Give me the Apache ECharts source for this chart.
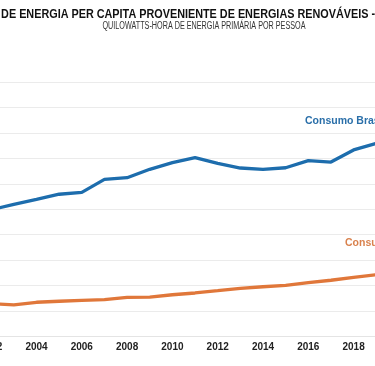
<!DOCTYPE html>
<html>
<head>
<meta charset="utf-8">
<script src="https://cdn.jsdelivr.net/npm/echarts@6/dist/echarts.min.js"></script>
<style>
html,body{margin:0;padding:0;background:#fff;}
#chart{width:375px;height:366px;}
</style>
</head>
<body>
<div id="chart"></div>
<script>
var years = [2002, 2003, 2004, 2005, 2006, 2007, 2008, 2009, 2010, 2011, 2012, 2013, 2014, 2015, 2016, 2017, 2018, 2019];
var brasil = [4980, 5195, 5390, 5590, 5665, 6175, 6240, 6570, 6830, 7025, 6805, 6620, 6570, 6630, 6910, 6855, 7330, 7590];
var mundo = [1290, 1240, 1345, 1385, 1420, 1445, 1540, 1550, 1640, 1710, 1800, 1895, 1955, 2010, 2115, 2210, 2325, 2430];
var titleText = 'CONSUMO DE ENERGIA PER CAPITA PROVENIENTE DE ENERGIAS RENOVÁVEIS - BRASIL E MUNDO';
var subtitleText = 'QUILOWATTS-HORA DE ENERGIA PRIMÁRIA POR PESSOA';
var labelBrasil = 'Consumo Brasileiro';
var labelMundo = 'Consumo Mundial';

function pairs(vals) { return years.map(function (y, i) { return [y, vals[i]]; }); }

var chart = echarts.init(document.getElementById('chart'), null, {renderer: 'canvas'});
chart.setOption({
  animation: false,
  backgroundColor: '#ffffff',
  grid: {left: -54.1, right: -46.55, top: 82, bottom: 29.5, containLabel: false, outerBoundsMode: 'none'},
  xAxis: {
    type: 'value', min: 2000, max: 2021, interval: 2,
    axisLine: {show: true, lineStyle: {color: '#e4e4e4', width: 1}},
    axisTick: {show: false},
    splitLine: {show: false},
    axisLabel: {show: true, margin: 6, color: '#222', fontWeight: 'bold', fontSize: 10, fontFamily: '"Liberation Sans", Arial, sans-serif',
      formatter: function (v) { return String(v); }}
  },
  yAxis: {
    type: 'value', min: 0, max: 10000, interval: 1000,
    axisLine: {show: false}, axisTick: {show: false},
    axisLabel: {show: true, color: '#555', fontSize: 10},
    splitLine: {show: true, lineStyle: {color: '#ebebeb', width: 1}}
  },
  series: [{
    name: labelBrasil, type: 'line', data: pairs(brasil), showSymbol: false,
    lineStyle: {color: '#1d6dad', width: 3.3}, itemStyle: {color: '#1d6dad'}
  }, {
    name: labelMundo, type: 'line', data: pairs(mundo), showSymbol: false,
    lineStyle: {color: '#e0773a', width: 3.3}, itemStyle: {color: '#e0773a'}
  }],
  graphic: [{
    type: 'text', x: 207, y: 14.5, scaleX: 0.866,
    style: {text: titleText, fill: '#111', align: 'center', verticalAlign: 'middle', font: 'bold 12.5px "Liberation Sans", Arial, sans-serif'}
  }, {
    type: 'text', x: 204, y: 25.8, scaleX: 0.722,
    style: {text: subtitleText, fill: '#333', align: 'center', verticalAlign: 'middle', font: '10px "Liberation Sans", Arial, sans-serif'}
  }, {
    type: 'text', left: 305, top: 116,
    style: {text: labelBrasil, fill: '#2a6fa9', font: 'bold 10.5px "Liberation Sans", Arial, sans-serif'}
  }, {
    type: 'text', left: 345, top: 238,
    style: {text: labelMundo, fill: '#d9824e', font: 'bold 10.5px "Liberation Sans", Arial, sans-serif'}
  }]
});
</script>
</body>
</html>
